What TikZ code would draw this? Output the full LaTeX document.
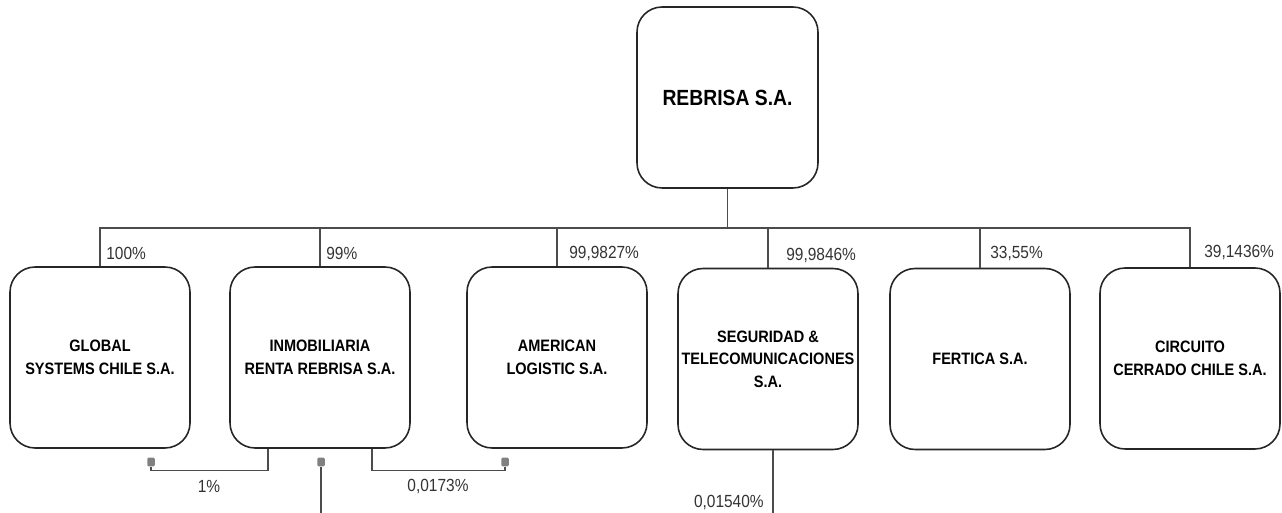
\documentclass[tikz,border=0pt]{standalone}
\usepackage{fontspec}
\setmainfont{Liberation Sans}[FakeStretch=0.88]
\usetikzlibrary{positioning, calc}

\begin{document}
\begin{tikzpicture}[
    x=0.02cm, y=-0.02cm,
    box/.style={rectangle, draw=black!85, line width=0.9pt, rounded corners=0.5cm, minimum width=3.6cm, minimum height=3.62cm, inner xsep=1pt, align=center, font=\fontsize{9.4}{12.8}\selectfont\bfseries},
    link/.style={draw=black!70, line width=0.6pt},
    pct/.style={font=\fontsize{10}{12}\selectfont, text=black!80, inner sep=0pt},
    dot/.style={rectangle, fill=black!50, rounded corners=0.8pt, minimum width=0.15cm, minimum height=0.18cm, inner sep=0pt}
]
    \useasboundingbox (0,0) rectangle (1282,513);

    % parent company
    \node[box, minimum width=3.62cm] (rebrisa) at (727.5,97.5) {\fontsize{12.5}{14}\selectfont REBRISA S.A.};

    % subsidiaries
    \node[box] (global) at (100,357.5) {GLOBAL\\SYSTEMS CHILE S.A.};
    \node[box] (inmob) at (320,357.5) {INMOBILIARIA\\RENTA REBRISA S.A.};
    \node[box] (american) at (557,357.5) {AMERICAN\\LOGISTIC S.A.};
    \node[box] (seguridad) at (768,359) {SEGURIDAD \&\\TELECOMUNICACIONES\\S.A.};
    \node[box] (fertica) at (980,359) {FERTICA S.A.};
    \node[box] (circuito) at (1190,358.5) {CIRCUITO\\CERRADO CHILE S.A.};

    % ownership bus
    \coordinate (bus) at (727.5,228);
    \draw[link] (rebrisa.south) -- (bus);
    \draw[link] (global.north) -- (global.north |- bus) -- (circuito.north |- bus) -- (circuito.north);
    \foreach \n in {inmob, american, seguridad, fertica}
        \draw[link] (\n.north) -- (\n.north |- bus);

    % percentages
    \node[pct, anchor=west] (p1) at (106,253) {100\%};
    \node[pct, anchor=west] (p2) at (326,253) {99\%};
    \node[pct, anchor=west] (p3) at (569,253) {99,9827\%};
    \node[pct, anchor=west] (p4) at (786,255) {99,9846\%};
    \node[pct, anchor=west] (p5) at (990,253) {33,55\%};
    \node[pct, anchor=west] (p6) at (1204,252) {39,1436\%};

    % cross holdings
    \node[dot] (d1) at (151,462) {};
    \node[dot] (d2) at (321,462) {};
    \node[dot] (d3) at (505,462) {};
    \coordinate (d2end) at (321,513);
    \coordinate (segend) at (773,513);

    \draw[link] (inmob.south) ++(-52,0) -- ++(0,22) -| (d1.south);
    \draw[link] (inmob.south) ++(52,0) -- ++(0,22) -| (d3.south);
    \draw[link] (d2) -- (d2end);
    \draw[link] (seguridad.south -| segend) -- (segend);

    \node[pct] (q1) at (209,486) {1\%};
    \node[pct] (q2) at (438,486) {0,0173\%};
    \node[pct, anchor=east] (q3) at (764,502) {0,01540\%};
\end{tikzpicture}
\end{document}
